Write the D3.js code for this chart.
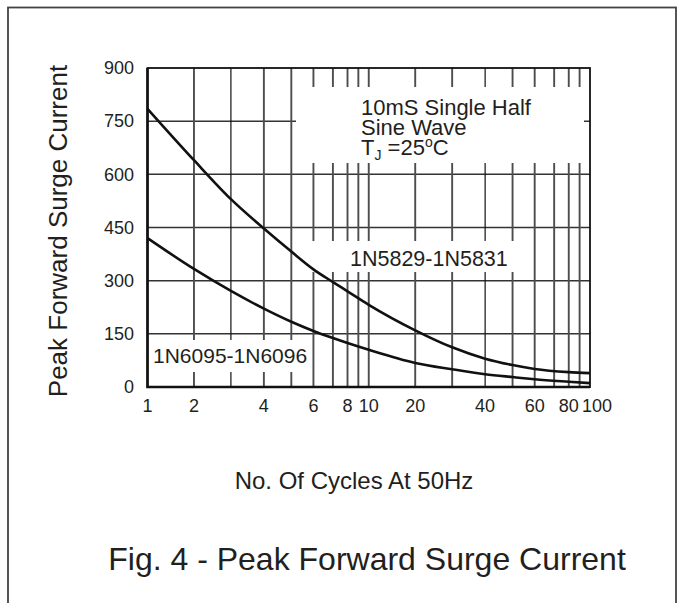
<!DOCTYPE html>
<html>
<head>
<meta charset="utf-8">
<script src="https://cdn.jsdelivr.net/npm/d3@7"></script>
<style>
  body { margin: 0; background: #fff; }
  text { font-family: "Liberation Sans", Arial, Helvetica, sans-serif; fill: #231f20; }
</style>
</head>
<body>
<div id="chart"></div>
<script>
// values at the gridlines
const cycles = [1, 2, 3, 4, 5, 6, 7, 8, 10, 20, 30, 40, 50, 60, 80, 100];
const surge5829 = [785, 640, 530, 447, 382, 332, 296, 270, 232, 160, 112, 80, 62, 51, 42, 39];
const surge6095 = [420, 333, 271, 221, 184, 158, 138, 124, 105, 68, 50, 36, 28, 22, 15, 11];

const xGrid = [1, 2, 3, 4, 5, 6, 7, 8, 9, 10, 20, 30, 40, 50, 60, 70, 80, 90, 100];
const xTickLabels = [1, 2, 4, 6, 8, 10, 20, 40, 60, 80, 100];
const darkGrid = [3, 40];
const yTicks = [0, 150, 300, 450, 600, 750, 900];

// the printed log paper is not a true log scale, so map each mantissa inside a decade
const decadeMantissa = [1, 2, 3, 4, 5, 6, 7, 8, 9, 10];
const decadeSpot = [0, 0.21, 0.377, 0.526, 0.65, 0.75, 0.838, 0.904, 0.953, 1];

const plotL = 147.5, plotR = 590, plotT = 68, plotB = 387;

const svg = d3.select('#chart')
  .append('svg')
  .attr('width', 683)
  .attr('height', 603);

// outer frame (bottom edge runs off the page)
svg.append('rect')
  .attr('x', 8).attr('y', 7.5)
  .attr('width', 668).attr('height', 640)
  .attr('fill', 'none')
  .attr('stroke', '#444')
  .attr('stroke-width', 1.8);

const mantissa = d3.scaleLinear().domain(decadeMantissa).range(decadeSpot);
const xDec = d3.scaleLinear().domain([0, 2]).range([plotL, plotR]);
const x = v => {
  const e = Math.min(1, Math.floor(Math.log10(v) + 1e-9));
  return xDec(e + mantissa(v / Math.pow(10, e)));
};

const y = d3.scaleLinear().domain([0, 900]).range([plotB, plotT]);

// horizontal grid
svg.append('g')
  .selectAll('line')
  .data(yTicks.slice(1, -1))
  .enter()
  .append('line')
  .attr('x1', plotL).attr('x2', plotR)
  .attr('y1', d => y(d)).attr('y2', d => y(d))
  .attr('stroke', '#333')
  .attr('stroke-width', 1.5);

// vertical grid
svg.append('g')
  .selectAll('line')
  .data(xGrid.slice(1, -1))
  .enter()
  .append('line')
  .attr('x1', d => x(d)).attr('x2', d => x(d))
  .attr('y1', plotT).attr('y2', plotB)
  .attr('stroke', d => darkGrid.includes(d) ? '#111' : '#4d4d4d')
  .attr('stroke-width', d => darkGrid.includes(d) ? 1.2 : 1.9);

// white patches the labels sit on
const patches = [
  [296, 87, 288, 76],
  [300, 241, 220, 31],
  [150, 340, 162, 32]
];
svg.append('g')
  .selectAll('rect')
  .data(patches)
  .enter()
  .append('rect')
  .attr('x', d => d[0]).attr('y', d => d[1])
  .attr('width', d => d[2]).attr('height', d => d[3])
  .attr('fill', '#fff');

// plot border
svg.append('rect')
  .attr('x', plotL).attr('y', plotT)
  .attr('width', plotR - plotL).attr('height', plotB - plotT)
  .attr('fill', 'none')
  .attr('stroke', '#111')
  .attr('stroke-width', 1.8);
svg.append('path')
  .attr('d', `M${plotL},${plotT}V${plotB}H${plotR}`)
  .attr('fill', 'none')
  .attr('stroke', '#111')
  .attr('stroke-width', 2.6);

// curves
const line = d3.line()
  .x(d => x(d[0]))
  .y(d => y(d[1]))
  .curve(d3.curveMonotoneX);

[surge5829, surge6095].forEach(series => {
  svg.append('path')
    .datum(cycles.map((c, i) => [c, series[i]]))
    .attr('d', line)
    .attr('fill', 'none')
    .attr('stroke', '#111')
    .attr('stroke-width', 2.6);
});

// tick labels
svg.append('g')
  .selectAll('text')
  .data(yTicks)
  .enter()
  .append('text')
  .attr('x', 134)
  .attr('y', d => y(d))
  .attr('dy', '0.35em')
  .attr('text-anchor', 'end')
  .style('font-size', '18px')
  .text(d => d);

svg.append('g')
  .selectAll('text')
  .data(xTickLabels)
  .enter()
  .append('text')
  .attr('x', d => x(d) + (d === 100 ? 7 : 0))
  .attr('y', 412)
  .attr('text-anchor', 'middle')
  .style('font-size', '18px')
  .text(d => d);

// curve labels
svg.append('text')
  .attr('x', 350).attr('y', 266)
  .style('font-size', '21.5px')
  .text('1N5829-1N5831');
svg.append('text')
  .attr('x', 153).attr('y', 363)
  .style('font-size', '21px')
  .text('1N6095-1N6096');

// conditions note
svg.append('text')
  .attr('x', 361).attr('y', 115)
  .style('font-size', '22px')
  .text('10mS Single Half');
svg.append('text')
  .attr('x', 361).attr('y', 135)
  .style('font-size', '22px')
  .text('Sine Wave');
const tj = svg.append('text')
  .attr('x', 361).attr('y', 155)
  .style('font-size', '22px');
tj.append('tspan').text('T');
tj.append('tspan').attr('dy', 5).style('font-size', '14px').text('J');
tj.append('tspan').attr('dy', -5).text(' =25');
tj.append('tspan').attr('dy', -8).style('font-size', '14px').text('o');
tj.append('tspan').attr('dy', 8).text('C');

// axis titles
svg.append('text')
  .attr('transform', 'translate(67,231) rotate(-90)')
  .attr('text-anchor', 'middle')
  .style('font-size', '26px')
  .text('Peak Forward Surge Current');

svg.append('text')
  .attr('x', 354).attr('y', 489)
  .attr('text-anchor', 'middle')
  .style('font-size', '24px')
  .text('No. Of Cycles At 50Hz');

svg.append('text')
  .attr('x', 367).attr('y', 570)
  .attr('text-anchor', 'middle')
  .style('font-size', '32px')
  .text('Fig. 4 - Peak Forward Surge Current');
</script>
</body>
</html>
